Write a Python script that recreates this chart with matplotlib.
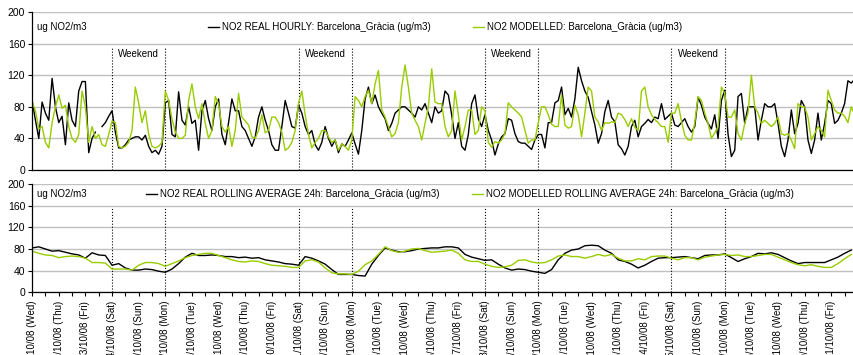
import numpy as np
import matplotlib.pyplot as plt

plt.rcParams['font.family'] = ['Liberation Sans', 'DejaVu Sans']

# NO2 at Barcelona_Gracia, October 2008 (ug/m3)
# hourly panel, every 3 hours (8 values per day)
real_hourly = [
    88, 63, 40, 86, 72, 63, 116, 80,
    60, 68, 32, 85, 63, 55, 100, 112,
    112, 22, 40, 48, np.nan, 55, 60, 68,
    75, 48, 28, 28, 32, 38, 40, 42,
    42, 38, 44, 30, 22, 25, 20, 30,
    85, 88, 45, 42, 99, 63, 57, 80,
    59, 63, 25, 75, 88, 65, 50, 80,
    90, 45, 32, 60, 90, 75, 75, 55,
    50, 40, 30, 42, 67, 80, 63, 50,
    32, 25, 25, 55, 88, 72, 55, 53,
    82, 72, 55, 45, 50, 32, 25, 35,
    55, 40, 30, 38, 22, 33, 30, 38,
    47, 33, 20, 50, 90, 105, 84, 95,
    80, 72, 65, 50, 59, 72, 76, 80,
    80, 76, 72, 67, 80, 76, 84, 72,
    60, 80, 72, 75, 100, 95, 70, 40,
    60, 30, 25, 45, 84, 95, 65, 55,
    70, 50, 38, 19, 33, 42, 46, 65,
    63, 46, 36, 34, 34, 30, 26, 38,
    45, 45, 28, 60, 60, 85, 88, 105,
    70, 78, 67, 90, 130, 113, 100, 92,
    74, 57, 34, 46, 74, 88, 67, 61,
    32, 27, 19, 30, 55, 63, 42, 55,
    59, 64, 60, 67, 65, 84, 64, 68,
    72, 57, 55, 60, 65, 55, 48, 55,
    92, 82, 67, 59, 52, 70, 40, 88,
    101, 45, 17, 25, 93, 97, 59, 80,
    80, 80, 38, 63, 84, 80, 80, 84,
    59, 30, 17, 38, 76, 46, 59, 88,
    80, 38, 21, 38, 72, 38, 59, 88,
    84, 59, 63, 72, 84, 113, 110, 115,
]
modelled_hourly = [
    86, 75, 52, 55, 35, 28, 60, 80,
    95, 78, 82, 55, 40, 35, 45, 100,
    80, 35, 55, 40, 45, 32, 30, 45,
    62, 60, 30, 28, 30, 35, 50, 105,
    85, 60, 75, 45, 30, 28, 30, 35,
    100, 88, 65, 48, 40, 40, 44, 88,
    109, 80, 65, 84, 59, 40, 50, 93,
    84, 55, 48, 55, 30, 50, 97, 67,
    62, 57, 42, 40, 50, 70, 47, 50,
    67, 67, 60, 48, 25, 28, 35, 50,
    85, 100, 70, 45, 28, 35, 40, 50,
    50, 42, 35, 38, 25, 33, 30, 25,
    38, 93, 88, 80, 93, 101, 84, 109,
    126, 76, 67, 55, 42, 46, 60, 105,
    133, 105, 72, 63, 55, 38, 59, 80,
    128, 86, 84, 84, 55, 42, 50, 100,
    70, 38, 55, 76, 76, 45, 50, 80,
    75, 35, 29, 36, 34, 38, 46, 85,
    80, 76, 72, 67, 50, 34, 38, 38,
    60, 80, 80, 70, 58, 55, 55, 95,
    57, 53, 55, 82, 70, 42, 72, 105,
    100, 67, 61, 50, 60, 59, 61, 60,
    72, 70, 64, 55, 65, 54, 50, 100,
    105, 80, 70, 64, 60, 55, 55, 35,
    72, 72, 84, 62, 44, 38, 38, 60,
    93, 88, 72, 59, 40, 47, 55, 105,
    97, 67, 67, 76, 46, 38, 59, 72,
    120, 80, 72, 59, 63, 59, 55, 59,
    67, 46, 44, 46, 38, 27, 84, 80,
    80, 67, 38, 46, 55, 50, 42, 101,
    88, 76, 72, 72, 68, 60, 80, 70,
]

# 24h rolling averages, read every 6 hours (4 values per day)
real_rolling = [
    82, 84, 80, 76,  77, 74, 71, 69,  63, 73, 69, 68,  50, 53, 45, 41,
    41, 43, 42, 39,  37, 43, 53, 65,  72, 68, 68, 69,  68, 66, 66, 64,
    65, 63, 64, 60,  58, 56, 53, 52,  50, 66, 63, 58,  52, 42, 33, 33,
    33, 31, 30, 52,  68, 82, 78, 75,  75, 77, 80, 81,  82, 82, 84, 84,
    82, 70, 65, 62,  59, 60, 52, 45,  41, 43, 42, 39,  37, 35, 42, 60,
    72, 78, 80, 86,  87, 86, 78, 72,  60, 57, 52, 45,  50, 57, 63, 64,
    64, 65, 66, 64,  62, 68, 69, 69,  71, 64, 57, 62,  66, 72, 71, 73,
    70, 64, 58, 53,  55, 55, 55, 55,  60, 65, 72, 78,
]
modelled_rolling = [
    76, 72, 69, 68,  64, 66, 67, 66,  63, 55, 55, 54,  43, 43, 43, 41,
    50, 55, 55, 53,  48, 53, 58, 64,  68, 70, 72, 72,  68, 64, 60, 57,
    56, 58, 57, 53,  50, 49, 48, 46,  46, 58, 60, 56,  45, 36, 34, 34,
    33, 39, 51, 58,  70, 84, 77, 74,  76, 80, 81, 77,  74, 75, 76, 78,
    72, 60, 57, 57,  52, 48, 46, 47,  50, 59, 60, 56,  54, 55, 60, 67,
    69, 66, 66, 63,  66, 70, 67, 70,  63, 58, 58, 62,  60, 66, 67, 67,
    63, 60, 64, 64,  60, 65, 67, 69,  70, 68, 69, 66,  66, 68, 70, 70,
    65, 60, 55, 51,  49, 51, 48, 46,  46, 53, 62, 70,
]

days = list(range(1, 32))
day_names = ['Wed', 'Thu', 'Fri', 'Sat', 'Sun', 'Mon', 'Tue']
tick_labels = ['%d/10/08 (%s)' % (d, day_names[(d - 1) % 7]) for d in days]
weekend_starts = [4, 11, 18, 25]

GREEN = '#99cc00'
GRID = '#c0c0c0'

x_hourly = 1 + np.arange(len(real_hourly)) * 3 / 24
x_roll = 1 + np.arange(len(real_rolling)) * 6 / 24

fig = plt.figure(figsize=(8.54, 3.55), dpi=100)
ax1 = fig.add_axes([0.0376, 0.5211, 0.967, 0.445])
ax2 = fig.add_axes([0.0376, 0.1766, 0.967, 0.305])

for ax in (ax1, ax2):
    ax.set_xlim(1, 32)
    ax.set_ylim(0, 200)
    ax.set_yticks(range(0, 201, 40))
    ax.set_axisbelow(True)
    ax.grid(axis='y', color=GRID, lw=1.0)
    ax.spines['top'].set_visible(False)
    ax.spines['right'].set_visible(False)
    ax.spines['left'].set_linewidth(0.9)
    ax.spines['bottom'].set_linewidth(0.9)
    ax.tick_params(axis='y', labelsize=7.5, length=3, width=0.8, pad=2)
    for d in weekend_starts:
        ax.vlines([d, d + 2], 0, 155, colors='k', linestyles=':', lw=0.8)
    ax.text(0.006, 0.905, 'ug NO2/m3', transform=ax.transAxes,
            fontsize=7, va='center', ha='left')

# top panel: hourly values
ax1.plot(x_hourly, real_hourly, color='k', lw=1.0,
         label='NO2 REAL HOURLY: Barcelona_Gràcia (ug/m3)')
ax1.plot(x_hourly, modelled_hourly, color=GREEN, lw=1.0,
         label='NO2 MODELLED: Barcelona_Gràcia (ug/m3)')
ax1.set_xticks([])
for d in weekend_starts:
    ax1.text(d + 1, 147, 'Weekend', fontsize=7, ha='center', va='center')
ax1.legend(loc='center', bbox_to_anchor=(0.5, 0.905), ncol=2, frameon=False,
           fontsize=7, handlelength=1.1, handletextpad=0.3, columnspacing=4.4)

# bottom panel: rolling averages
ax2.plot(x_roll, real_rolling, color='k', lw=1.0,
         label='NO2 REAL ROLLING AVERAGE 24h: Barcelona_Gràcia (ug/m3)')
ax2.plot(x_roll, modelled_rolling, color=GREEN, lw=1.0,
         label='NO2 MODELLED ROLLING AVERAGE 24h: Barcelona_Gràcia (ug/m3)')
ax2.set_xticks(days)
ax2.set_xticklabels(tick_labels, rotation=90, fontsize=7)
ax2.set_xticks(np.arange(1.5, 32, 1), minor=True)
ax2.tick_params(axis='x', which='both', length=3, width=0.8, pad=3)
ax2.legend(loc='center', bbox_to_anchor=(0.530, 0.908), ncol=2, frameon=False,
           fontsize=7, handlelength=1.1, handletextpad=0.3, columnspacing=3.4)

fig.savefig('out.png', dpi=100)
